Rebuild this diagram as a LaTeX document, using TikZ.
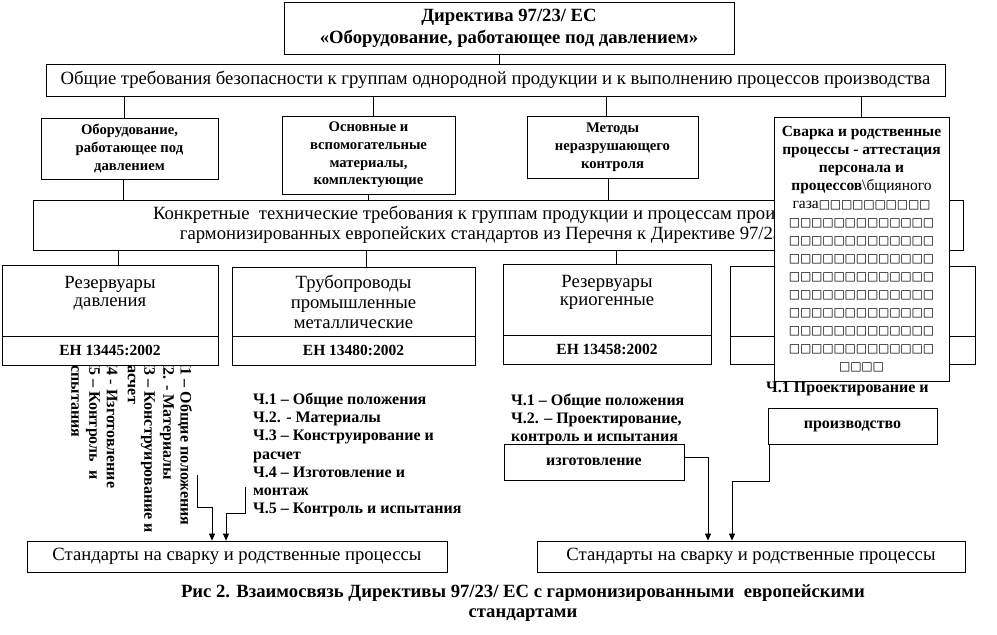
\documentclass[tikz,border=0pt]{standalone}
\usepackage{fontspec}
\setmainfont{Liberation Serif}
\newfontfamily\sqfont{DejaVu Sans}
\usetikzlibrary{arrows.meta}
\newcommand\tofu{\makebox[11.15pt]{\sqfont\fontsize{12}{12}\selectfont □}}
\newcommand\tofuiv{\tofu\tofu\tofu\tofu}
\newcommand\tofux{\tofuiv\tofuiv\tofu\tofu}
\newcommand\tofuxiii{\tofuiv\tofuiv\tofuiv\tofu}
\begin{document}
\begin{tikzpicture}[x=1pt,y=-1pt,
  box/.style={draw, fill=white, line width=0.8pt, inner sep=0pt, align=center},
  big/.style={font=\fontsize{18.67}{20}\selectfont},
  bigb/.style={font=\fontsize{18.67}{22}\selectfont\bfseries},
  midb/.style={font=\fontsize{14.67}{18}\selectfont\bfseries},
  smallb/.style={font=\fontsize{16}{18.3}\selectfont\bfseries},
  codeb/.style={font=\fontsize{15.5}{18}\selectfont\bfseries},
  line/.style={line width=0.8pt},
  arr/.style={line width=0.8pt, -{Triangle[length=7pt,width=6pt]}}
]
\useasboundingbox (0,0) rectangle (997,635);

% rotated list (partly hidden under box E)
\foreach \xx/\tt [count=\i] in {185/Ч1 – Общие положения, 167/Ч2. - Материалы, 148/Ч3 – Конструирование и, 130/расчет, 112/Ч4 - Изготовление, 93/Ч5 – Контроль~ и, 75/испытания}
  \node[smallb, rotate=-90, anchor=west, inner sep=0pt] (rot\i) at (\xx,356) {\tt};

% boxes
\node[box, bigb, minimum width=450, minimum height=52] (dir) at (509,28)
  {Директива 97/23/ ЕС\\«Оборудование, работающее под давлением»};
\node[box, big, minimum width=899, minimum height=32] (gen) at (495.5,80)
  {Общие требования безопасности к группам однородной продукции и к выполнению процессов производства};
\node[box, midb, minimum width=177, minimum height=61] (A) at (129.5,148.5)
  {Оборудование,\\работающее под\\давлением};
\node[box, midb, minimum width=173, minimum height=78, font=\fontsize{14.67}{17.7}\selectfont\bfseries] (B) at (368.5,155)
  {Основные и\\вспомогательные\\материалы,\\комплектующие};
\node[box, midb, minimum width=171, minimum height=62] (C) at (612.5,147)
  {Методы\\неразрушающего\\контроля};
\node[box, big, minimum width=930, minimum height=50] (konk) at (498,225)
  {Конкретные~ технические требования к группам продукции и процессам производства\\гармонизированных европейских стандартов из Перечня к Директиве 97/23/ ЕС};

\node[box, big, minimum width=216, minimum height=71, font=\fontsize{18.67}{18.5}\selectfont] (E) at (110,300.5)
  {Резервуары\\давления\\\mbox{}};
\node[box, codeb, minimum width=216, minimum height=29] (Ec) at (110,350.5) {ЕН 13445:2002};
\node[box, big, minimum width=243, minimum height=69] (F) at (353.5,301.5)
  {Трубопроводы\\промышленные\\металлические};
\node[box, codeb, minimum width=243, minimum height=29] (Fc) at (353.5,350.5) {ЕН 13480:2002};
\node[box, big, minimum width=208, minimum height=71, font=\fontsize{18.67}{18.5}\selectfont] (G) at (607,299.5)
  {Резервуары\\криогенные\\\mbox{}};
\node[box, codeb, minimum width=208, minimum height=29] (Gc) at (607,349.5) {ЕН 13458:2002};
\node[box, minimum width=245, minimum height=70] (H) at (852.5,301) {};
\node[box, minimum width=245, minimum height=28] (Hc) at (852.5,350) {};

% connectors
\coordinate (d1) at (499,0);
\draw[line] (d1 |- dir.south) -- (d1 |- gen.north);
\coordinate (a1) at ([xshift=-5.5]A.north);
\coordinate (b1) at ([xshift=4.5]B.north);
\coordinate (c1) at ([xshift=-6.5]C.north);
\draw[line] (a1) -- (a1 |- gen.south);
\draw[line] (b1) -- (b1 |- gen.south);
\draw[line] (c1) -- (c1 |- gen.south);
\coordinate (a2) at ([xshift=-6.5]A.south);
\coordinate (b2) at ([xshift=-0.5]B.south);
\coordinate (c2) at ([xshift=-4.5]C.south);
\draw[line] (a2) -- (a2 |- konk.north);
\draw[line] (b2) -- (b2 |- konk.north);
\draw[line] (c2) -- (c2 |- konk.north);
\coordinate (e1) at ([xshift=8]E.north);
\coordinate (f1) at ([xshift=13]F.north);
\coordinate (g1) at ([xshift=9]G.north);
\draw[line] (e1) -- (e1 |- konk.south);
\draw[line] (f1) -- (f1 |- konk.south);
\draw[line] (g1) -- (g1 |- konk.south);

% middle list
\node[smallb, anchor=west, align=left, inner sep=0pt] (list1) at (253,455)
  {Ч.1 – Общие положения\\Ч.2. - Материалы\\Ч.3 – Конструирование и\\расчет\\Ч.4 – Изготовление и\\монтаж\\Ч.5 – Контроль и испытания};
\node[smallb, anchor=west, align=left, inner sep=0pt] (list2) at (511,419.5)
  {Ч.1 – Общие положения\\Ч.2. – Проектирование,\\контроль и испытания};
\node[smallb, anchor=west, inner sep=0pt] (proj) at (766,389) {Ч.1 Проектирование и};

\node[box, smallb, minimum width=169, minimum height=36] (proizv) at (852.5,426) {производство};
\node[box, smallb, minimum width=180, minimum height=36] (izg) at (594,462) {изготовление};

\node[box, big, minimum width=420, minimum height=31] (bot1) at (237,556.5)
  {Стандарты на сварку и родственные процессы};
\node[box, big, minimum width=428, minimum height=31] (bot2) at (751,556.5)
  {Стандарты на сварку и родственные процессы};

% arrows
\coordinate (l1a) at (197,475);
\coordinate (l1b) at (212,507);
\coordinate (l2a) at (245,487);
\coordinate (l2b) at (226,513);
\draw[arr] (l1a) |- (l1b) -- (l1b |- bot1.north);
\draw[arr] (l2a) |- (l2b) -- (l2b |- bot1.north);
\coordinate (r1) at (708,0);
\draw[arr] ([yshift=5]izg.east) -| (r1 |- bot2.north);
\coordinate (r2b) at (732,481);
\draw[arr] ([xshift=2]proizv.south west) |- (r2b) -- (r2b |- bot2.north);

% caption
\node[align=center, font=\fontsize{18.67}{20}\selectfont\bfseries] (cap) at (523,603)
  {Рис 2. Взаимосвязь Директивы 97/23/ ЕС с гармонизированными~ европейскими\\стандартами};

% overlay box
\node[box, minimum width=175, minimum height=264, font=\fontsize{15.5}{18.05}\selectfont\bfseries] (D) at (861.5,249)
  {Сварка и родственные\\процессы - аттестация\\персонала и\\процессов{\mdseries\textbackslash бщияного}\\{\mdseries газа}\tofux\\
   \tofuxiii\\\tofuxiii\\\tofuxiii\\\tofuxiii\\\tofuxiii\\\tofuxiii\\\tofuxiii\\\tofuxiii\\\tofuiv};
\draw[line] (D.north) -- (D.north |- gen.south);
\end{tikzpicture}
\end{document}
